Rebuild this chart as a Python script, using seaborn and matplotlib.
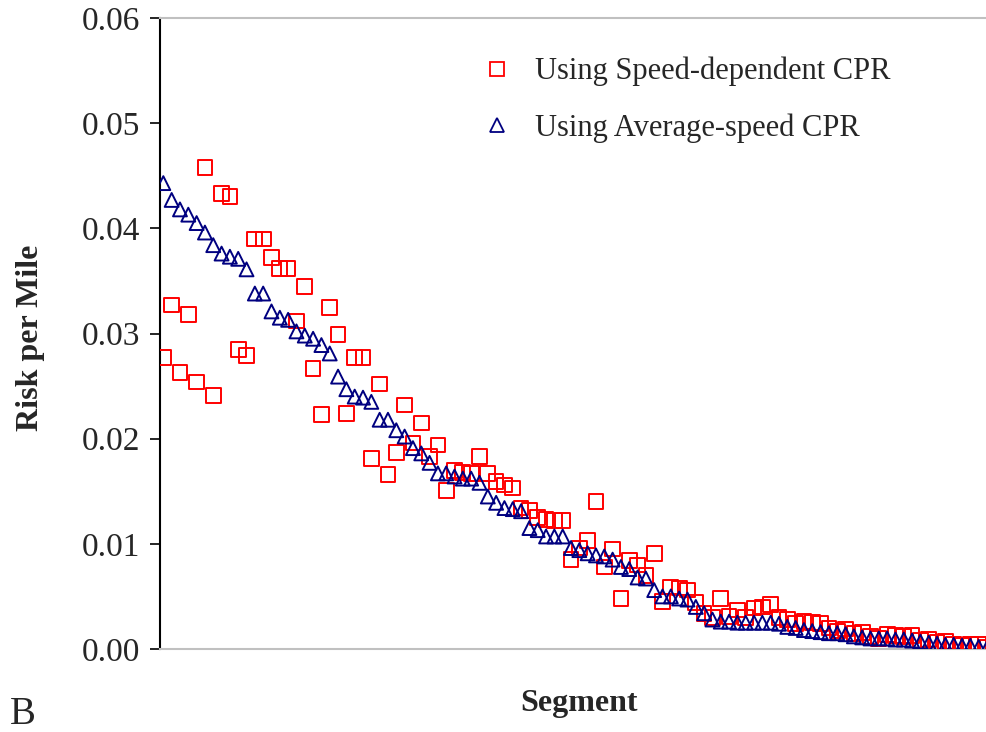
import matplotlib
matplotlib.use("Agg")
import matplotlib.pyplot as plt
from matplotlib.lines import Line2D
import seaborn as sns
import pandas as pd
import numpy as np

# ---- data ----
speed_dependent = [
    0.0277, 0.0327, 0.0263, 0.0318, 0.0254, 0.0458, 0.0241, 0.0433, 0.0430, 0.0285,
    0.0279, 0.0390, 0.0390, 0.0372, 0.0362, 0.0362, 0.0312, 0.0345, 0.0267, 0.0223,
    0.0325, 0.0299, 0.0224, 0.0277, 0.0277, 0.0181, 0.0252, 0.0166, 0.0187, 0.0232,
    0.0196, 0.0215, 0.0183, 0.0194, 0.0151, 0.0170, 0.0168, 0.0167, 0.0183, 0.0167,
    0.0159, 0.0156, 0.0153, 0.0134, 0.0132, 0.0125, 0.0123, 0.0122, 0.0122, 0.0085,
    0.0096, 0.0103, 0.0140, 0.0078, 0.0095, 0.0048, 0.0084, 0.0080, 0.0070, 0.0091,
    0.0045, 0.0059, 0.0058, 0.0056, 0.0044, 0.0034, 0.0030, 0.0048, 0.0031, 0.0037,
    0.0030, 0.0039, 0.0040, 0.0042, 0.0030, 0.0028, 0.0024, 0.0026, 0.0025, 0.0024,
    0.0020, 0.0017, 0.0019, 0.0015, 0.0016, 0.0012, 0.0010, 0.0014, 0.0013, 0.0012,
    0.0013, 0.0008, 0.0009, 0.0006, 0.0007, 0.0004, 0.0003, 0.0004, 0.0004, 0.0002,
]
average_speed = [
    0.0443, 0.0427, 0.0418, 0.0413, 0.0405, 0.0396, 0.0384, 0.0376, 0.0373, 0.0371,
    0.0361, 0.0338, 0.0338, 0.0321, 0.0315, 0.0313, 0.0302, 0.0298, 0.0295, 0.0289,
    0.0281, 0.0259, 0.0247, 0.0240, 0.0239, 0.0235, 0.0218, 0.0218, 0.0208, 0.0202,
    0.0191, 0.0186, 0.0177, 0.0167, 0.0167, 0.0164, 0.0162, 0.0162, 0.0158, 0.0145,
    0.0139, 0.0134, 0.0133, 0.0131, 0.0115, 0.0113, 0.0107, 0.0107, 0.0107, 0.0096,
    0.0094, 0.0091, 0.0089, 0.0088, 0.0085, 0.0078, 0.0076, 0.0068, 0.0067, 0.0056,
    0.0050, 0.0050, 0.0048, 0.0047, 0.0040, 0.0034, 0.0028, 0.0026, 0.0026, 0.0025,
    0.0025, 0.0025, 0.0025, 0.0025, 0.0024, 0.0021, 0.0020, 0.0018, 0.0017, 0.0016,
    0.0015, 0.0015, 0.0014, 0.0012, 0.0011, 0.0010, 0.0010, 0.0010, 0.0009, 0.0009,
    0.0008, 0.0007, 0.0006, 0.0005, 0.0004, 0.0004, 0.0003, 0.0003, 0.0002, 0.0001,
]
segments = list(range(len(average_speed)))
series_names = ["Using Speed-dependent CPR", "Using Average-speed CPR"]
y_ticks = [0.00, 0.01, 0.02, 0.03, 0.04, 0.05, 0.06]

# ---- style ----
sns.set_style("white")
plt.rcParams["font.family"] = ["Liberation Serif", "DejaVu Serif"]

RED = "#FF0000"
NAVY = "#000080"

fig = plt.figure(figsize=(9.87, 7.32), dpi=100)
ax = fig.add_axes([160 / 987, 1 - 649 / 732, 1 - 160 / 987, (649 - 18) / 732])

df_sd = pd.DataFrame({"Segment": segments, "Risk": speed_dependent})
df_av = pd.DataFrame({"Segment": segments, "Risk": average_speed})

sns.scatterplot(data=df_sd, x="Segment", y="Risk", ax=ax, marker="s", s=112,
                color=RED, facecolor="none", edgecolor=RED, linewidth=1.4,
                legend=False, zorder=3)
sns.scatterplot(data=df_av, x="Segment", y="Risk", ax=ax, marker="^", s=100,
                color=NAVY, facecolor="none", edgecolor=NAVY, linewidth=1.4,
                legend=False, zorder=4)
for coll, col in zip(ax.collections, [RED, NAVY]):
    coll.set_facecolor("none")
    coll.set_edgecolor(col)

ax.set_xlim(-0.4, 99.0)
ax.set_ylim(0, 0.06)
ax.set_yticks(y_ticks)
ax.set_yticklabels([f"{t:.2f}" for t in y_ticks])
ax.set_xticks([])

ax.tick_params(axis="y", which="major", direction="out", length=7, width=1.2,
               color="black", labelsize=24, pad=7, left=True)

ax.spines["right"].set_visible(False)
ax.spines["left"].set_color("black")
ax.spines["left"].set_linewidth(1.5)
ax.spines["top"].set_color("#c0c0c0")
ax.spines["top"].set_linewidth(1.5)
ax.spines["bottom"].set_color("#c0c0c0")
ax.spines["bottom"].set_linewidth(1.5)
ax.grid(False)

ax.set_ylabel("Risk per Mile", fontsize=23, fontweight="bold", va="center", ha="center")
ax.yaxis.set_label_coords((31 - 160) / 827, (649 - 338) / 631)
ax.set_xlabel("Segment", fontsize=23, fontweight="bold", va="center", ha="center")
ax.xaxis.set_label_coords((579 - 160) / 827, (649 - 704) / 631)

handles = [
    Line2D([], [], linestyle="none", marker="s", markersize=10, markerfacecolor="none",
           markeredgecolor=RED, markeredgewidth=1.3),
    Line2D([], [], linestyle="none", marker="^", markersize=10, markerfacecolor="none",
           markeredgecolor=NAVY, markeredgewidth=1.3),
]
fig.legend(handles, series_names, loc="upper left",
           bbox_to_anchor=(482 / 987, 1 - 57 / 732), bbox_transform=fig.transFigure,
           frameon=False, fontsize=22, handlelength=1.0, handletextpad=0.75,
           borderpad=0, borderaxespad=0, labelspacing=0.87)

fig.text(10 / 987, 1 - 715 / 732, "B", fontsize=28, ha="left", va="center")

fig.savefig("out.png", dpi=100)
